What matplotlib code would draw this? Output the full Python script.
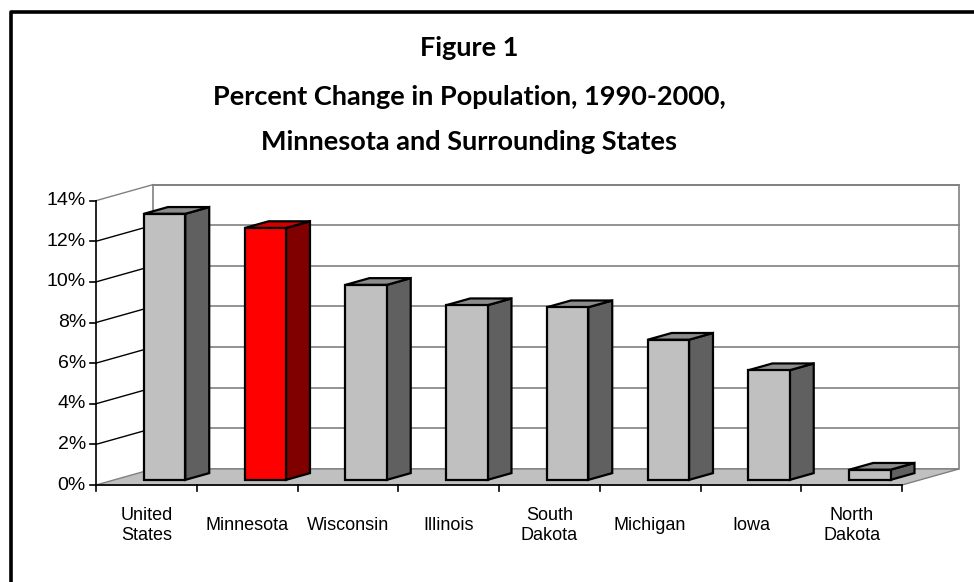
import matplotlib
matplotlib.use("Agg")
import matplotlib.pyplot as plt
from matplotlib.patches import Polygon

# Percent change in population, 1990-2000
states = ["United\nStates", "Minnesota", "Wisconsin", "Illinois",
          "South\nDakota", "Michigan", "Iowa", "North\nDakota"]
pct_change = [13.1, 12.4, 9.6, 8.6, 8.5, 6.9, 5.4, 0.5]
highlight = "Minnesota"
y_ticks = [0, 2, 4, 6, 8, 10, 12, 14]

# oblique "3-D" look: how far the back wall is shifted (x in categories, y in %)
DX, DY = 0.566, 0.79
F0, F1 = 0.32, 0.74      # depth range of each bar
HALF_W = 0.205           # half width of a bar's front face

gray_cols = ("#c0c0c0", "#606060", "#8c8c8c")   # front, side, top
red_cols = ("#ff0000", "#800000", "#d00000")

fig = plt.figure(figsize=(9.74, 5.82), dpi=100)
ax = fig.add_axes([0, 0, 1, 1])
ax.set_xlim(-96 / 100.75, (974 - 96) / 100.75)
ax.set_ylim(-(582 - 485) / 20.31, 485 / 20.31)
ax.axis("off")

n = len(states)
ymax = y_ticks[-1]

# outer frame (top and left edges)
ax.plot([-0.845, -0.845, 9.0], [-6, 23.28, 23.28], color="black", lw=2.6,
        solid_capstyle="projecting", zorder=1)

# walls
left_wall = Polygon([(0, 0), (DX, DY), (DX, ymax + DY), (0, ymax)],
                    closed=True, facecolor="white", edgecolor="none", zorder=1)
back_wall = Polygon([(DX, DY), (n + DX, DY), (n + DX, ymax + DY), (DX, ymax + DY)],
                    closed=True, facecolor="white", edgecolor="#808080", lw=1.2, zorder=1)
ax.add_patch(left_wall)
ax.add_patch(back_wall)

# gridlines on both walls
for v in y_ticks[1:]:
    ax.plot([DX, n + DX], [v + DY, v + DY], color="#808080", lw=1.2, zorder=2)
    ax.plot([0, DX], [v, v + DY], color="black" if v < ymax else "#808080",
            lw=1.0, zorder=2)

# floor
floor = Polygon([(0, 0), (n, 0), (n + DX, DY), (DX, DY)], closed=True,
                facecolor="#c0c0c0", edgecolor="#808080", lw=1.0, zorder=3)
ax.add_patch(floor)

# bars
for i, (name, val) in enumerate(zip(states, pct_change)):
    front, side, top = red_cols if name == highlight else gray_cols
    x0 = i + 0.5 - HALF_W + F0 * DX
    x1 = i + 0.5 + HALF_W + F0 * DX
    y0 = F0 * DY
    ddx = (F1 - F0) * DX
    ddy = (F1 - F0) * DY
    y1 = y0 + val
    kw = dict(closed=True, edgecolor="black", lw=1.6, joinstyle="miter", zorder=4)
    ax.add_patch(Polygon([(x1, y0), (x1 + ddx, y0 + ddy), (x1 + ddx, y1 + ddy), (x1, y1)],
                         facecolor=side, **kw))
    ax.add_patch(Polygon([(x0, y1), (x1, y1), (x1 + ddx, y1 + ddy), (x0 + ddx, y1 + ddy)],
                         facecolor=top, **kw))
    ax.add_patch(Polygon([(x0, y0), (x1, y0), (x1, y1), (x0, y1)],
                         facecolor=front, **kw))

# value axis
ax.plot([0, 0], [0, ymax], color="black", lw=1.2, zorder=5)
for v in y_ticks:
    ax.plot([-0.06, 0], [v, v], color="black", lw=1.2, zorder=5)
    ax.text(-0.1, v, f"{v}%", ha="right", va="center", fontsize=14,
            family="Liberation Sans", zorder=5)

# category axis
ax.plot([0, n], [0, 0], color="black", lw=1.2, zorder=5)
for k in range(n + 1):
    ax.plot([k, k], [0, -0.3], color="black", lw=1.2, zorder=5)
for i, name in enumerate(states):
    ax.text(i + 0.5, -2.0, name, ha="center", va="center", fontsize=13,
            family="Liberation Sans", linespacing=1.2, zorder=5)

# title
title_lines = ["Figure 1",
               "Percent Change in Population, 1990-2000,",
               "Minnesota and Surrounding States"]
for line, ypx in zip(title_lines, [48, 97, 142]):
    fig.text(469 / 974, 1 - ypx / 582, line, ha="center", va="center",
             fontsize=19.5, fontweight="bold", family="Lato")

fig.savefig("out.png", dpi=100)
